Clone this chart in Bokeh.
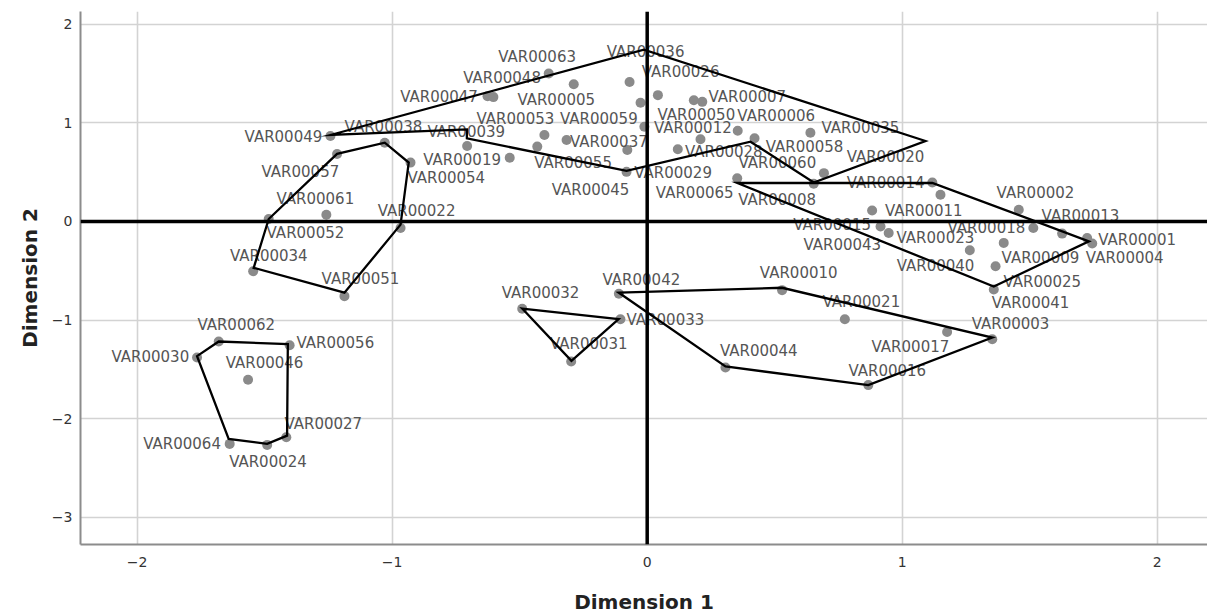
from bokeh.plotting import figure
from bokeh.models import ColumnDataSource, Span, Range1d, FixedTicker
from bokeh.core.properties import value
from bokeh.embed import file_html
from bokeh.resources import INLINE

# ---- data -------------------------------------------------------------
names = ["VAR00001", "VAR00002", "VAR00003", "VAR00004", "VAR00005", "VAR00006", "VAR00007",
         "VAR00008", "VAR00009", "VAR00010", "VAR00011", "VAR00012", "VAR00013", "VAR00014",
         "VAR00015", "VAR00016", "VAR00017", "VAR00018", "VAR00019", "VAR00020", "VAR00021",
         "VAR00022", "VAR00023", "VAR00024", "VAR00025", "VAR00026", "VAR00027", "VAR00028",
         "VAR00029", "VAR00030", "VAR00031", "VAR00032", "VAR00033", "VAR00034", "VAR00035",
         "VAR00036", "VAR00037", "VAR00038", "VAR00039", "VAR00040", "VAR00041", "VAR00042",
         "VAR00043", "VAR00044", "VAR00045", "VAR00046", "VAR00047", "VAR00048", "VAR00049",
         "VAR00050", "VAR00051", "VAR00052", "VAR00053", "VAR00054", "VAR00055", "VAR00056",
         "VAR00057", "VAR00058", "VAR00059", "VAR00060", "VAR00061", "VAR00062", "VAR00063",
         "VAR00064", "VAR00065"]

dim1 = [1.725, 1.457, 1.353, 1.745, -0.288, 0.355, 0.216,
        0.653, 1.398, 0.529, 1.150, -0.011, 1.627, 1.118,
        0.882, 0.867, 1.176, 1.514, -0.539, 0.209, 0.775,
        -0.967, 0.947, -1.490, 1.366, 0.042, -1.415, 0.120,
        -0.078, -1.765, -0.298, -0.490, -0.105, -1.545, 0.640,
        -0.069, -0.316, -1.029, -0.706, 1.265, 1.359, -0.111,
        0.915, 0.307, -0.081, -1.565, -0.626, -0.603, -1.242,
        0.183, -1.187, -1.484, -0.403, -0.928, -0.431, -1.402,
        -1.216, 0.421, -0.026, 0.693, -1.258, -1.680, -0.386,
        -1.637, 0.353]

dim2 = [-0.168, 0.118, -1.195, -0.225, 1.391, 0.919, 1.212,
        0.381, -0.218, -0.697, 0.270, 0.960, -0.124, 0.394,
        0.111, -1.660, -1.121, -0.067, 0.646, 0.832, -0.993,
        -0.067, -0.117, -2.266, -0.455, 1.280, -2.188, 0.731,
        0.724, -1.380, -1.420, -0.885, -0.993, -0.505, 0.899,
        1.414, 0.826, 0.798, 0.765, -0.293, -0.690, -0.733,
        -0.051, -1.481, 0.502, -1.606, 1.270, 1.260, 0.866,
        1.229, -0.758, 0.024, 0.876, 0.596, 0.758, -1.256,
        0.684, 0.842, 1.202, 0.489, 0.068, -1.218, 1.499,
        -2.256, 0.438]

# boundaries drawn around the groups (vertex coordinates)
top_group_x = [-1.242, -0.013, 1.091, 0.653, 0.405, -0.081, -0.707, -0.707]
top_group_y = [0.876, 1.741, 0.815, 0.394, 0.808, 0.512, 0.842, 0.933]
left_group_x = [-1.484, -1.216, -1.029, -0.935, -0.967, -1.187, -1.543]
left_group_y = [0.024, 0.684, 0.798, 0.596, -0.033, -0.723, -0.471]
lowleft_group_x = [-1.765, -1.680, -1.409, -1.412, -1.490, -1.641]
lowleft_group_y = [-1.366, -1.218, -1.245, -2.172, -2.256, -2.205]
triangle_group_x = [-0.490, -0.112, -0.297]
triangle_group_y = [-0.884, -0.990, -1.414]
bottom_group_x = [-0.111, 0.529, 1.353, 0.867, 0.307]
bottom_group_y = [-0.723, -0.673, -1.178, -1.660, -1.471]
right_group_x = [0.353, 1.118, 1.732, 1.359]
right_group_y = [0.389, 0.391, -0.202, -0.660]

x_ticks = [-2, -1, 0, 1, 2]
y_ticks = [-3, -2, -1, 0, 1, 2]

# ---- label placement (screen-pixel offsets from each point) ---------------
label_dx = [50, 16.7, 18.3, 32.5, -17.5, 38.5, 45,
            -36.6, 36.7, 16.6, -16.7, 48.5, 18.3, -46.7,
            -40, 19, -36.7, -46.9, -47.6, 185, 16.5,
            16, 46.7, 0.8, 46.7, 22.7, 37, 46,
            45.8, -46.7, 17.6, 18.3, 45, 15.6, 50,
            16, 42.3, -1.3, -0.9, -34.3, 36.7, 22.5,
            -38.3, 33.3, -36, 16.5, -48.5, 8.7, -47,
            2.5, 16, 36.7, -29, 35.8, 35.8, 45.7,
            -36.7, 50, -41.7, -46.6, -11, 17.5, -11.6,
            -47.6, -42.5]
label_dy = [1.7, -16.7, -15, 14.3, 16, -14.7, -4.4,
            16, 15, -17.4, 16.7, 1.6, -17.3, 0.6,
            14.3, -14.3, 14.6, 0, 2.3, 17.4, -17.3,
            -16.6, 5, 17.3, 16, -23.3, -13.3, 2.4,
            23.3, 0, -17.3, -16, 0.7, -15, -4.4,
            -30, 1.7, -15.7, -14.3, 15.3, 14, -13.6,
            18.3, -16, 18, -16.4, 1, -18.7, 0.7,
            15, -16.7, 14, -16, 15.6, 16, -2,
            17.7, 8.4, 16.3, -10, -16, -16.3, -16.3,
            0, 15]

src = ColumnDataSource(dict(x=dim1, y=dim2, name=names, dx=label_dx, dy=label_dy))

p = figure(width=1207, height=616, output_backend="svg", toolbar_location=None,
           x_range=Range1d(-2.222, 2.197), y_range=Range1d(-3.276, 2.128),
           min_border_left=80, min_border_right=0, min_border_top=11, min_border_bottom=70)
p.outline_line_color = None
p.background_fill_color = "white"
p.border_fill_color = "white"

# grid
p.xgrid.ticker = FixedTicker(ticks=x_ticks)
p.ygrid.ticker = FixedTicker(ticks=y_ticks)
for g in (p.xgrid, p.ygrid):
    g.grid_line_color = "#d3d3d3"
    g.grid_line_width = 1.6

# axes
p.xaxis.ticker = FixedTicker(ticks=x_ticks)
p.yaxis.ticker = FixedTicker(ticks=y_ticks)
p.xaxis.major_label_overrides = {-2: "\u22122", -1: "\u22121", 0: "0", 1: "1", 2: "2"}
p.yaxis.major_label_overrides = {-3: "\u22123", -2: "\u22122", -1: "\u22121", 0: "0", 1: "1", 2: "2"}
for ax in (p.xaxis, p.yaxis):
    ax.axis_line_color = "#8c8c8c"
    ax.axis_line_width = 2
    ax.major_tick_line_color = None
    ax.minor_tick_line_color = None
    ax.major_tick_out = 0
    ax.major_tick_in = 0
    ax.major_label_text_font = "DejaVu Sans"
    ax.major_label_text_font_size = "14px"
    ax.major_label_text_color = "#333333"
    ax.axis_label_text_font = "DejaVu Sans"
    ax.axis_label_text_font_size = "20px"
    ax.axis_label_text_font_style = "bold"
    ax.axis_label_text_color = "#222222"
p.xaxis.axis_label = "Dimension 1"
p.yaxis.axis_label = "Dimension 2"
p.xaxis.major_label_standoff = 12
p.xaxis.axis_label_standoff = 20
p.yaxis.major_label_standoff = 8
p.yaxis.axis_label_standoff = 7

# points
p.scatter("x", "y", source=src, size=10, fill_color="#8a8a8a", line_color=None)

# labels
p.text("x", "y", text="name", source=src, x_offset="dx", y_offset="dy",
       text_font=value("DejaVu Sans"), text_font_size="15px", text_color="#555555",
       text_align="center", text_baseline="middle")

# group boundaries
p.patches([top_group_x, left_group_x, lowleft_group_x, triangle_group_x, bottom_group_x, right_group_x],
          [top_group_y, left_group_y, lowleft_group_y, triangle_group_y, bottom_group_y, right_group_y],
          fill_color=None, line_color="black", line_width=2.3, line_join="miter")

# reference lines at the origin
p.add_layout(Span(location=0, dimension="height", line_color="black", line_width=3.5))
p.add_layout(Span(location=0, dimension="width", line_color="black", line_width=3.5))

open("out.html", "w").write(file_html(p, INLINE))
